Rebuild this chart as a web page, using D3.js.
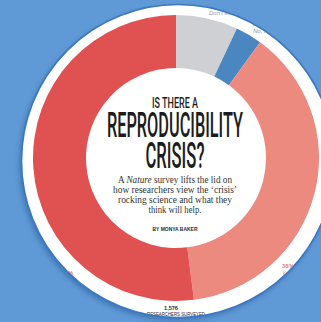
<!DOCTYPE html>
<html>
<head>
<meta charset="utf-8">
<script src="https://cdn.jsdelivr.net/npm/d3@7"></script>
<style>
html,body{margin:0;padding:0;background:#609ad6;}
svg{display:block;}
</style>
</head>
<body>
<svg id="chart" width="321" height="322"></svg>
<script>
// Data, clockwise from the top
const categories = ["Don't know", "No, there is no crisis", "Yes, a slight crisis", "Yes, a significant crisis"];
const values = [7, 3, 38, 52];
const colors = ["#cfd0d4", "#4a86c0", "#ec8a80", "#e05151"];
const titleLines = ["IS THERE A", "REPRODUCIBILITY", "CRISIS?"];
const bodyLines = ["A |Nature| survey lifts the lid on", "how researchers view the ‘crisis’", "rocking science and what they", "think will help."];
const byline = "BY MONYA BAKER";
const totalLabel = ["1,576", "RESEARCHERS SURVEYED"];

const svg = d3.select("#chart");
const W = 321, H = 322;
svg.append("rect").attr("width", W).attr("height", H).attr("fill", "#609ad6");

const defs = svg.append("defs");
const f = defs.append("filter").attr("id", "sh").attr("x", "-20%").attr("y", "-20%").attr("width", "140%").attr("height", "140%");
f.append("feGaussianBlur").attr("stdDeviation", 2.5);
defs.append("clipPath").attr("id", "disc").append("circle").attr("cx", 178).attr("cy", 161).attr("r", 156);

// shadow + disc
svg.append("circle").attr("cx", 176).attr("cy", 164).attr("r", 157).attr("fill", "#2c5f9c").attr("opacity", 0.55).attr("filter", "url(#sh)");
svg.append("circle").attr("cx", 178).attr("cy", 161).attr("r", 156.5).attr("fill", "#ffffff").attr("stroke", "#3a78c2").attr("stroke-width", 1.6);

const g = svg.append("g").attr("clip-path", "url(#disc)");
const cx = 176, cy = 158, rOuter = 143, rInner = 90;

const pie = d3.pie().sort(null).value(d => d)(values);
const arc = d3.arc().innerRadius(rInner).outerRadius(rOuter);
const donut = g.append("g").attr("transform", `translate(${cx},${cy})`);
donut.selectAll("path").data(pie).join("path")
  .attr("d", arc).attr("fill", (d, i) => colors[i]);

// outside labels (mostly clipped by the disc, as in the photo)
const lab = g.append("g").attr("font-family", "'Liberation Sans', Arial, sans-serif").attr("font-size", 6).attr("font-style", "italic");
const labelPos = [
  {x: 209, y: 8, anchor: "start", col: "#9b9ea3"},
  {x: 253, y: 26, anchor: "start", col: "#8093b0"},
  {x: 282, y: 268, anchor: "start", col: "#e3857b"},
  {x: 73, y: 275, anchor: "end", col: "#e06a66"}
];
categories.forEach((c, i) => {
  const p = labelPos[i];
  lab.append("text").attr("x", p.x).attr("y", p.y).attr("text-anchor", p.anchor).attr("fill", p.col)
    .attr("font-weight", "bold").attr("font-style", "normal").text(values[i] + "%");
  lab.append("text").attr("x", p.x).attr("y", p.y + 7).attr("text-anchor", p.anchor).attr("fill", p.col).text(c);
});

// Title
const tcx = 175;
const title = g.append("g").attr("font-family", "Roboto, 'Liberation Sans', sans-serif").attr("font-weight", 500)
  .attr("fill", "#1c1c1c").attr("text-anchor", "middle");
const tSpec = [{y: 107.5, size: 15, w: 46}, {y: 137, size: 35, w: 136}, {y: 168, size: 36, w: 59}];
titleLines.forEach((t, i) => {
  title.append("text").attr("x", tcx).attr("y", tSpec[i].y).attr("font-size", tSpec[i].size)
    .attr("textLength", tSpec[i].w).attr("lengthAdjust", "spacingAndGlyphs").text(t);
});

// Body
const body = g.append("g").attr("font-family", "'Liberation Serif', 'Times New Roman', serif").attr("font-size", 9.6)
  .attr("fill", "#333333").attr("text-anchor", "middle");
const bY = [183, 193, 203, 213];
const bW = [114, 124, 114, 53];
bodyLines.forEach((t, i) => {
  const tx = body.append("text").attr("x", tcx).attr("y", bY[i]).attr("textLength", bW[i]).attr("lengthAdjust", "spacingAndGlyphs");
  t.split("|").forEach((part, j) => {
    tx.append("tspan").attr("font-style", j === 1 ? "italic" : "normal").text(part);
  });
});

g.append("text").attr("x", tcx).attr("y", 230.5).attr("text-anchor", "middle")
  .attr("font-family", "'Liberation Sans', Arial, sans-serif").attr("font-weight", 700).attr("font-size", 5.2)
  .attr("fill", "#2a2a2a").attr("textLength", 45).attr("lengthAdjust", "spacingAndGlyphs").text(byline);

// Total
const tot = g.append("g").attr("font-family", "'Liberation Sans', Arial, sans-serif").attr("fill", "#2a2a2a").attr("text-anchor", "middle");
tot.append("text").attr("x", 171).attr("y", 309.5).attr("font-size", 5.5).attr("font-weight", 700).text(totalLabel[0]);
tot.append("text").attr("x", 176).attr("y", 315.5).attr("font-size", 5).attr("textLength", 58).attr("lengthAdjust", "spacingAndGlyphs").text(totalLabel[1]);
</script>
</body>
</html>
